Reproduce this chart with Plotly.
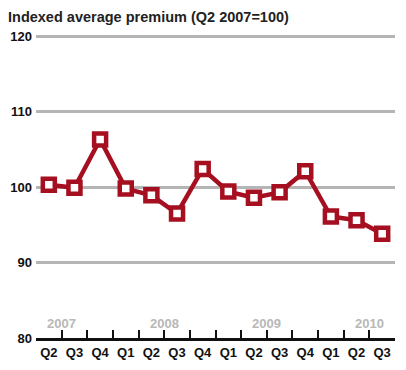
import plotly.graph_objects as go

quarters = ["Q2", "Q3", "Q4", "Q1", "Q2", "Q3", "Q4", "Q1", "Q2", "Q3", "Q4", "Q1", "Q2", "Q3"]
years = ["2007", "2007", "2007", "2008", "2008", "2008", "2008", "2009", "2009", "2009", "2009", "2010", "2010", "2010"]
values = [100.3, 99.9, 106.3, 99.8, 98.9, 96.5, 102.4, 99.4, 98.6, 99.3, 102.1, 96.1, 95.6, 93.8]
year_labels = ["2007", "2008", "2009", "2010"]
year_label_pos = [0.5, 4.5, 8.5, 12.5]
y_ticks = [80, 90, 100, 110, 120]

categories = [f"{q} {y}" for q, y in zip(quarters, years)]

RED = "#a50f1f"
FONT = "Liberation Sans, Arial, sans-serif"

fig = go.Figure()
fig.add_trace(go.Scatter(
    x=categories, y=values, mode="lines+markers",
    line=dict(color=RED, width=4.5),
    marker=dict(symbol="square", size=12, color="white",
                line=dict(color=RED, width=4.5)),
    hoverinfo="skip", cliponaxis=False,
))

for lab, pos in zip(year_labels, year_label_pos):
    fig.add_annotation(x=pos, y=80, xref="x", yref="y", text=f"<b>{lab}</b>",
                       showarrow=False, yshift=15,
                       font=dict(family=FONT, size=13, color="#b8b8b8"))

fig.add_annotation(x=0, y=1, xref="paper", yref="paper", xanchor="left", yanchor="bottom",
                   text="<b>Indexed average premium (Q2 2007=100)</b>", showarrow=False,
                   xshift=-30, yshift=8, font=dict(family=FONT, size=14.5, color="#222222"))

fig.update_layout(
    width=406, height=370,
    margin=dict(l=36, r=11, t=35, b=32),
    paper_bgcolor="white", plot_bgcolor="white",
    showlegend=False,
    font=dict(family=FONT, size=12, color="#111111"),
    xaxis=dict(
        type="category", tickmode="array", tickvals=categories,
        ticktext=[f"<b>{q}</b>" for q in quarters], tickangle=0, automargin=False,
        tickson="boundaries", ticks="inside", ticklen=8, tickwidth=2, tickcolor="#111111",
        showline=True, linecolor="#111111", linewidth=3,
        showgrid=False, zeroline=False, range=[-0.5, 13.5],
        tickfont=dict(family=FONT, size=13, color="#111111"),
    ),
    yaxis=dict(
        range=[80, 120.15], tickvals=y_ticks, ticktext=[f"<b>{v}</b>" for v in y_ticks],
        showgrid=True, gridcolor="#b5b5b5", gridwidth=2.5, automargin=False,
        zeroline=False, showline=False, ticks="",
        tickfont=dict(family=FONT, size=13, color="#111111"),
        ticklabelstandoff=3,
    ),
)

fig.write_html("out.html", config={"displayModeBar": False},
               post_script="document.body.style.margin='0';")
